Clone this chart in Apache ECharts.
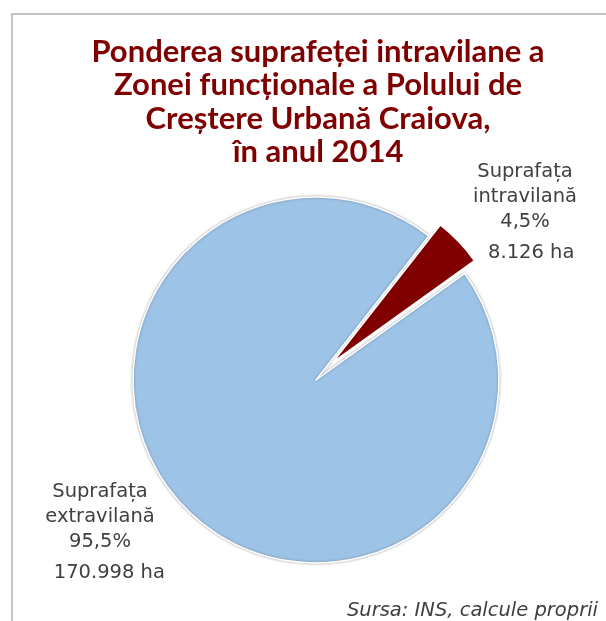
<!DOCTYPE html>
<html>
<head>
<meta charset="utf-8">
<script src="https://cdn.jsdelivr.net/npm/echarts@6/dist/echarts.min.js"></script>
<style>
  html, body { margin: 0; padding: 0; background: #fff; }
  #chart { width: 606px; height: 621px; }
</style>
</head>
<body>
<div id="chart"></div>
<script>
var categories = ['Suprafața\nextravilană', 'Suprafața\nintravilană'];
var hectares = [170998, 8126];
var percentLabels = ['95,5%', '4,5%'];
var hectareLabels = ['170.998 ha', '8.126 ha'];
var sliceColors = ['#9DC3E6', '#800000'];

// where the two labels sit (center of the text block)
var labelSpots = [[100, 531], [525, 211]];
var labelIndent = ['   ', '  '];

var pieData = categories.map(function (name, i) {
    return { value: hectares[i], name: name, itemStyle: { color: sliceColors[i] } };
});

// big slice drawn in the main pie; the small one is hidden there
var mainData = pieData.map(function (d, i) {
    if (i === 1) {
        return { value: d.value, name: d.name, itemStyle: { color: 'transparent', borderColor: 'transparent', shadowColor: 'transparent' } };
    }
    return d;
});

// second copy: only the small slice shown, pulled out a bit
var explodedData = pieData.map(function (d, i) {
    if (i === 1) return d;
    return { value: d.value, name: d.name, itemStyle: { color: 'transparent', borderColor: 'transparent' } };
});

var myChart = echarts.init(document.getElementById('chart'));
myChart.setOption({
    backgroundColor: '#fff',
    title: {
        text: 'Ponderea suprafeței intravilane a\nZonei funcționale a Polului de\nCreștere Urbană Craiova,\nîn anul 2014',
        left: 313,
        top: 30,
        textAlign: 'center',
        textStyle: {
            fontFamily: 'Lato',
            fontWeight: 'bold',
            fontSize: 31,
            lineHeight: 33.5,
            color: '#7F0000'
        }
    },
    graphic: [
        {
            type: 'polyline',
            shape: { points: [[12, 621], [12, 14], [606, 14]] },
            style: { stroke: '#C3C3C3', lineWidth: 2, fill: null }
        },
        {
            type: 'text',
            right: 8,
            bottom: 0,
            style: {
                text: 'Sursa: INS, calcule proprii',
                font: 'italic 19.5px "DejaVu Sans"',
                fill: '#404040'
            }
        }
    ],
    series: [
        {
            type: 'pie',
            center: [316, 380],
            radius: 183,
            startAngle: 35.6,
            clockwise: true,
            silent: true,
            itemStyle: {
                borderColor: '#fff',
                borderWidth: 1.5,
                shadowBlur: 3,
                shadowColor: 'rgba(0,0,0,0.3)'
            },
            label: {
                show: true,
                position: 'outside',
                overflow: 'none',
                width: 200,
                formatter: function (p) {
                    return '{a|' + p.name + '\n' + percentLabels[p.dataIndex] + '}\n{h|' +
                        labelIndent[p.dataIndex] + hectareLabels[p.dataIndex] + '}';
                },
                fontFamily: 'DejaVu Sans',
                fontSize: 19.5,
                color: '#404040',
                align: 'center',
                rich: {
                    a: { fontFamily: 'DejaVu Sans', fontSize: 19.5, lineHeight: 25, color: '#404040' },
                    h: { fontFamily: 'DejaVu Sans', fontSize: 19.5, lineHeight: 29, color: '#404040', verticalAlign: 'bottom' }
                }
            },
            labelLine: { show: false },
            labelLayout: function (p) {
                var s = labelSpots[p.dataIndex];
                return { x: s[0], y: s[1], align: 'center', verticalAlign: 'middle' };
            },
            data: mainData
        },
        {
            type: 'pie',
            center: [333, 362],
            radius: 174,
            startAngle: 35.6,
            clockwise: true,
            silent: true,
            itemStyle: {
                borderColor: '#fff',
                borderWidth: 1.5
            },
            label: { show: false },
            labelLine: { show: false },
            data: explodedData
        }
    ]
});
</script>
</body>
</html>
